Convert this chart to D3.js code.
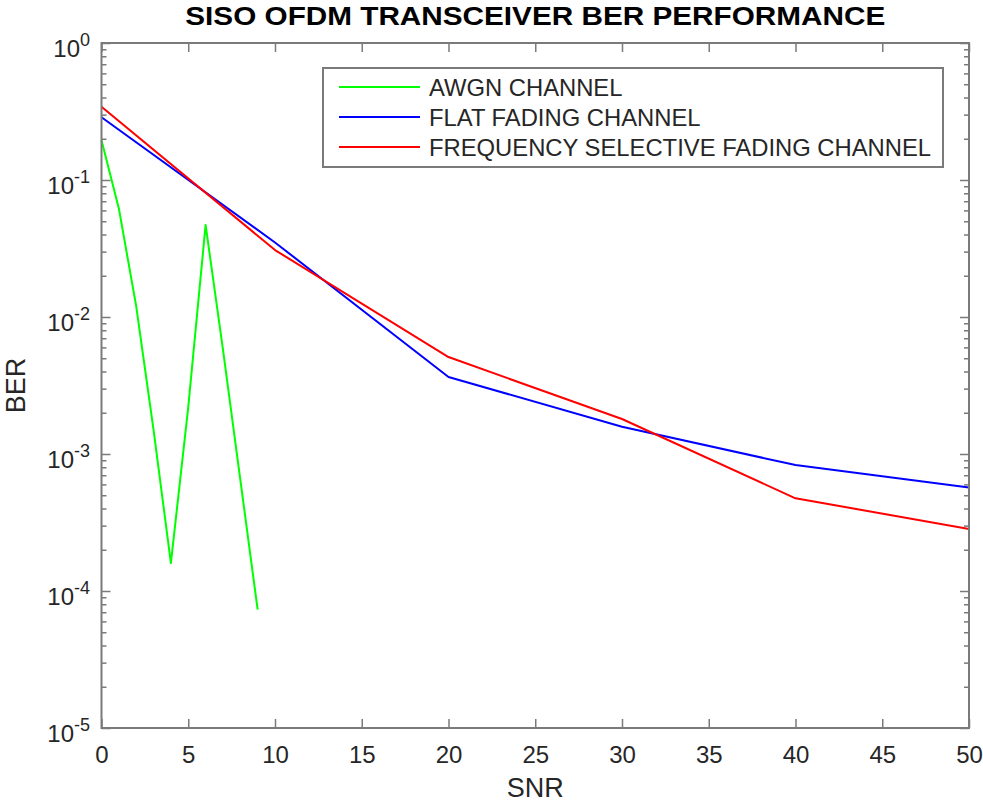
<!DOCTYPE html>
<html><head><meta charset="utf-8">
<script src="https://cdn.jsdelivr.net/npm/d3@7"></script>
<style>body{margin:0;background:#fff}svg{display:block}</style>
</head><body>
<script>
const awgnSNR = [0,1,2,3,4,5,6,7,8,9];
const awgnBER = [0.195,0.062,0.012,0.0015,0.00016,0.0022,0.047,0.0058,0.00065,0.000073];
const fadingSNR = [0,10,20,30,40,50];
const flatBER = [0.287,0.035,0.00365,0.00158,0.00083,0.00057];
const freqBER = [0.343,0.0308,0.0051,0.0018,0.000475,0.000284];
const xTicks = [0,5,10,15,20,25,30,35,40,45,50];
const yExponents = [0,-1,-2,-3,-4,-5];
const seriesNames = ["AWGN CHANNEL","FLAT FADING CHANNEL","FREQUENCY SELECTIVE FADING CHANNEL"];
const seriesColors = ["#00ff00","#0000ff","#ff0000"];

const W=983,H=804;
const L=101.5,R=969,T=43,B=728;
const axisColor="#7a7a7a", textColor="#262626";
const svg=d3.select("body").append("svg").attr("width",W).attr("height",H)
  .style("font-family","'Liberation Sans', Arial, sans-serif");
const x=d3.scaleLinear().domain([0,50]).range([L,R]);
const y=d3.scaleLog().domain([1e-5,1]).range([B,T]);

// lines
const line=d3.line().x(d=>x(d[0])).y(d=>y(d[1]));
const series=[
  d3.zip(awgnSNR,awgnBER),
  d3.zip(fadingSNR,flatBER),
  d3.zip(fadingSNR,freqBER)
];
const g=svg.append("g");
series.forEach((s,i)=>{
  g.append("path").attr("d",line(s)).attr("fill","none")
   .attr("stroke",seriesColors[i]).attr("stroke-width",2).attr("stroke-linejoin","round");
});

// axes
const ax=svg.append("g");
const axB=d3.axisBottom(x).tickValues(xTicks).tickSize(-9).tickFormat(d=>d);
const axT=d3.axisTop(x).tickValues(xTicks).tickSize(-9).tickFormat("");
const majors=yExponents.map(e=>Math.pow(10,e));
const minors=[];
for(let e=-5;e<0;e++){for(let k=2;k<=9;k++)minors.push(k*Math.pow(10,e));}
const axL=d3.axisLeft(y).tickValues(majors).tickSize(-9).tickFormat("");
const axR=d3.axisRight(y).tickValues(majors).tickSize(-9).tickFormat("");
const axLm=d3.axisLeft(y).tickValues(minors).tickSize(-5).tickFormat("");
const axRm=d3.axisRight(y).tickValues(minors).tickSize(-5).tickFormat("");
const gb=ax.append("g").attr("transform",`translate(0,${B})`).call(axB);
ax.append("g").attr("transform",`translate(0,${T})`).call(axT);
ax.append("g").attr("transform",`translate(${L},0)`).call(axL);
ax.append("g").attr("transform",`translate(${R},0)`).call(axR);
ax.append("g").attr("transform",`translate(${L},0)`).call(axLm);
ax.append("g").attr("transform",`translate(${R},0)`).call(axRm);
ax.selectAll(".domain").remove();
ax.selectAll(".tick line").attr("stroke",axisColor).attr("stroke-width",1.5);
gb.selectAll(".tick text").attr("font-size",24).attr("fill",textColor)
  .attr("font-family","'Liberation Sans', Arial, sans-serif").attr("dy",null).attr("y",35);
// box
ax.append("rect").attr("x",L).attr("y",T).attr("width",R-L).attr("height",B-T)
  .attr("fill","none").attr("stroke",axisColor).attr("stroke-width",2);

// y tick labels
const yl=svg.append("g");
yExponents.forEach(e=>{
  const t=yl.append("text").attr("x",90).attr("y",y(Math.pow(10,e))+13.5)
    .attr("text-anchor","end").attr("fill",textColor);
  t.append("tspan").attr("font-size",24).text("10");
  t.append("tspan").attr("font-size",18).attr("dy",-11).text(String(e));
});

// axis labels
svg.append("text").attr("x",(L+R)/2).attr("y",797).attr("text-anchor","middle")
  .attr("font-size",27).attr("fill",textColor).text("SNR");
svg.append("text").attr("transform",`translate(25,${(T+B)/2}) rotate(-90)`)
  .attr("text-anchor","middle").attr("font-size",27).attr("fill",textColor).text("BER");
// title
svg.append("text").attr("x",(L+R)/2).attr("y",25).attr("text-anchor","middle")
  .attr("font-size",26).attr("font-weight","bold").attr("fill","#000")
  .attr("textLength",700).attr("lengthAdjust","spacingAndGlyphs")
  .text("SISO OFDM TRANSCEIVER BER PERFORMANCE");

// legend
const lg=svg.append("g");
lg.append("rect").attr("x",323).attr("y",68).attr("width",620).attr("height",99)
  .attr("fill","#fff").attr("stroke",axisColor).attr("stroke-width",2);
seriesNames.forEach((n,i)=>{
  const yy=87+i*30;
  lg.append("line").attr("x1",339).attr("x2",420).attr("y1",yy).attr("y2",yy)
    .attr("stroke",seriesColors[i]).attr("stroke-width",2);
  lg.append("text").attr("x",429).attr("y",yy+8.5).attr("font-size",23.8)
    .attr("fill",textColor).text(n);
});
</script>
</body></html>
